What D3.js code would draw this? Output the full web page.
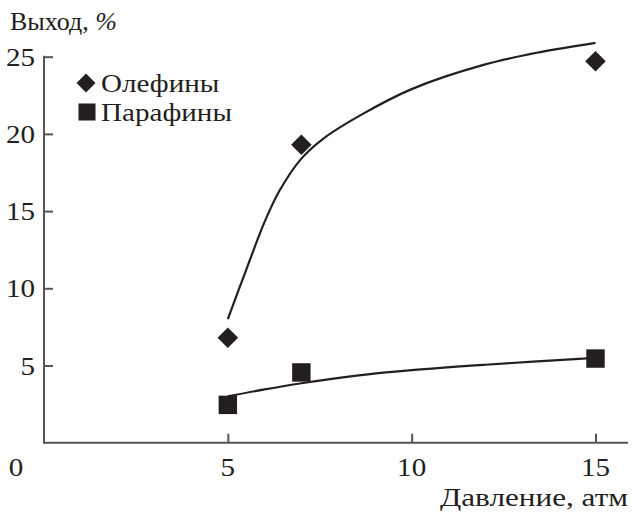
<!DOCTYPE html>
<html><head><meta charset="utf-8">
<script src="https://cdn.jsdelivr.net/npm/d3@7"></script>
<style>body{margin:0;background:#fff}svg{display:block}</style>
</head><body>
<script>
const xTicks = [0, 5, 10, 15];
const yTicks = [5, 10, 15, 20, 25];
const olefinPts = [[5, 6.8], [7, 19.3], [15, 24.7]];
const paraffinPts = [[5, 2.45], [7, 4.55], [15, 5.45]];
const olefinCurve = [[5, 8.0], [5.5, 11.2], [6.0, 14.3], [6.4, 16.3], [7.0, 18.4], [7.6, 19.7], [8.6, 21.2], [10, 22.9], [12, 24.5], [13.5, 25.3], [15, 25.9]];
const paraffinCurve = [[5, 3.0], [6, 3.45], [7, 3.85], [8.5, 4.35], [10, 4.7], [12, 5.05], [15, 5.5]];
const legendNames = ["Олефины", "Парафины"];

const W = 632, H = 512;
const svg = d3.select("body").append("svg").attr("width", W).attr("height", H);
const x = d3.scaleLinear().domain([0, 15]).range([44, 595.5]);
const y = d3.scaleLinear().domain([0, 25]).range([442.7, 56.7]);
const ink = "#231f20";
const font = "'Liberation Serif', 'Times New Roman', serif";
const FS = 26, SX = 1.12;

function label(px, py, txt, anchor, sx) {
  return svg.append("text")
    .attr("transform", `translate(${px},${py}) scale(${sx || SX},1)`)
    .attr("text-anchor", anchor || "start").attr("fill", ink)
    .style("font-family", font).style("font-size", FS + "px").text(txt);
}

// axes (ticks inside, labels drawn separately)
const xAxis = svg.append("g").attr("transform", `translate(0,${y(0)})`)
  .call(d3.axisBottom(x).tickValues(xTicks.filter(d => d > 0)).tickSize(-9).tickFormat(""));
const yAxis = svg.append("g").attr("transform", `translate(${x(0)},0)`)
  .call(d3.axisLeft(y).tickValues(yTicks).tickSize(-9).tickFormat(""));
[xAxis, yAxis].forEach(g => {
  g.select(".domain").remove();
  g.selectAll(".tick line").attr("stroke", "#555").attr("stroke-width", 2);
});
svg.append("line").attr("x1", x(0)).attr("x2", 628).attr("y1", y(0)).attr("y2", y(0))
  .attr("stroke", "#555").attr("stroke-width", 2);
svg.append("line").attr("x1", x(0)).attr("x2", x(0)).attr("y1", y(0) + 1).attr("y2", y(25) - 1)
  .attr("stroke", "#555").attr("stroke-width", 2);

// tick labels
xTicks.forEach(d => label(d === 0 ? x(d) - 28 : x(d), 476, String(d), "middle"));
yTicks.forEach(d => label(x(0) - 9, y(d) + 9, String(d), "end"));

// curves
const line = d3.line().x(d => x(d[0])).y(d => y(d[1])).curve(d3.curveCatmullRom.alpha(0.5));
svg.append("path").datum(olefinCurve).attr("d", line).attr("fill", "none").attr("stroke", ink).attr("stroke-width", 2.2);
svg.append("path").datum(paraffinCurve).attr("d", line).attr("fill", "none").attr("stroke", ink).attr("stroke-width", 2.2);

// markers
const diamond = d3.symbol().type(d3.symbolDiamond2).size(270);
const square = d3.symbol().type(d3.symbolSquare).size(340);
svg.selectAll(".ol").data(olefinPts).join("path")
  .attr("transform", d => `translate(${x(d[0])},${y(d[1])})`).attr("d", diamond).attr("fill", ink);
svg.selectAll(".pa").data(paraffinPts).join("path")
  .attr("transform", d => `translate(${x(d[0])},${y(d[1])})`).attr("d", square).attr("fill", ink);

// legend
svg.append("path").attr("transform", "translate(86,83)").attr("d", d3.symbol().type(d3.symbolDiamond2).size(230)).attr("fill", ink);
svg.append("path").attr("transform", "translate(87,112)").attr("d", d3.symbol().type(d3.symbolSquare).size(290)).attr("fill", ink);
legendNames.forEach((d, i) => label(101, 92 + i * 29, d));

// titles
const yt = label(10, 30, "Выход, ", "start", 1.0);
yt.append("tspan").style("font-style", "italic").text("%");
label(628, 506, "Давление, атм", "end", 1.2);
</script>
</body></html>
